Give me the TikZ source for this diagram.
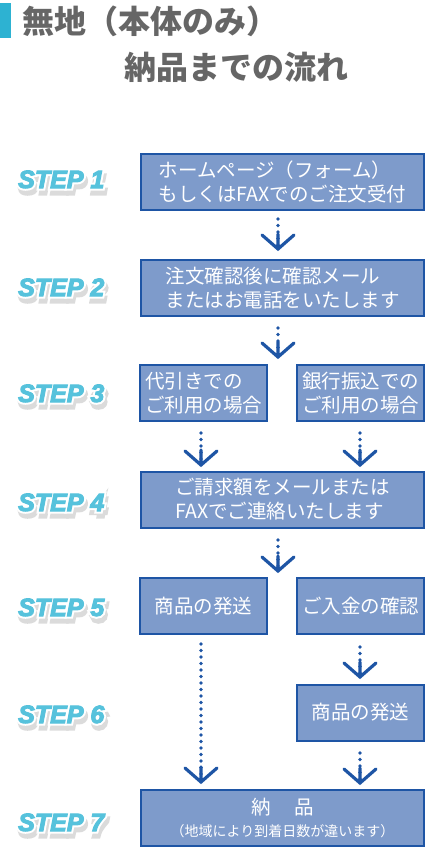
\documentclass[tikz,border=0pt]{standalone}
\usepackage{fontspec}
\setmainfont{Liberation Sans}
\newfontfamily\jpfont{Noto Sans CJK JP}
\newfontfamily\stepfont{Liberation Sans}[BoldItalicFeatures={FakeBold=4}]
\newfontfamily\stephalo{Liberation Sans}[BoldItalicFeatures={FakeBold=20}]
\usetikzlibrary{decorations.markings}

\definecolor{boxblue}{HTML}{7E9BCB}
\definecolor{lineblue}{HTML}{1E55A5}
\definecolor{stepcyan}{HTML}{56C2DC}
\definecolor{titlegray}{HTML}{666666}
\definecolor{barcyan}{HTML}{2DB2D2}

\tikzset{
  stepbox/.style={draw=lineblue, line width=2pt, fill=boxblue, text=white,
    font=\jpfont\fontsize{19.5}{24}\selectfont, align=left, inner sep=0pt},
  wide/.style={stepbox, minimum width=283pt, minimum height=56pt},
  half/.style={stepbox, minimum width=127pt, minimum height=56pt},
  flow/.style={lineblue, line width=3.6pt, line cap=round, dash pattern=on 0pt off 6.5pt,
    postaction={decorate}, decoration={markings, mark=at position 1 with
      {\draw[solid, line width=3.2pt, line cap=round, line join=miter]
        (-15pt,0) -- (0,0) (-14pt,16pt) -- (0,0) -- (-14pt,-16pt);}}},
  steptext/.style={anchor=base west, inner sep=0pt,
    font=\stepfont\fontsize{25}{25}\selectfont\bfseries\itshape},
  stepglow/.style={steptext, font=\stephalo\fontsize{25}{25}\selectfont\bfseries\itshape},
  titletext/.style={anchor=west, inner sep=0pt, text=titlegray,
    font=\jpfont\bfseries\fontsize{32}{32}\selectfont},
}

\begin{document}
\begin{tikzpicture}[x=1pt, y=-1pt]
    \useasboundingbox (0,0) rectangle (426,856);

    % title
    \fill[barcyan] (0,3) rectangle (11,38);
    \node (title1) [titletext] at (22,21) {無地（本体のみ）};
    \node (title2) [titletext] at (124,67) {納品までの流れ};

    % step labels
    \foreach \n/\y in {1/188,2/296,3/402,4/511,5/616,6/723,7/831}{
        \node (shadow\n) [stepglow, text=black!14] at (20,\y+5) {STEP \n};
        \node (halo\n) [stepglow, text=white] at (18,\y) {STEP \n};
        \node (step\n) [steptext, text=stepcyan] at (18,\y) {STEP \n};
    }

    % boxes
    \node (b1) [wide] at (282.5,182) {ホームページ（フォーム）\\もしくはFAXでのご注文受付};
    \node (b2) [wide] at (282.5,288) {注文確認後に確認メール\\またはお電話をいたします};
    \node (b3l) [half] at (203.5,393) {代引きでの\\ご利用の場合};
    \node (b3r) [half] at (360.5,393) {銀行振込での\\ご利用の場合};
    \node (b4) [wide] at (282.5,499.5) {ご請求額をメールまたは\\FAXでご連絡いたします};
    \node (b5l) [half] at (203.5,606) {商品の発送};
    \node (b5r) [half] at (360.5,606) {ご入金の確認};
    \node (b6) [half] at (360.5,712.5) {商品の発送};
    \node (b7) [wide, align=center] at (282.5,818) {納\hspace{1.2em}品\\[-2pt]{\fontsize{14}{16}\selectfont（地域により到着日数が違います）}};

    % gaps between the paired boxes
    \coordinate (g3) at (278,357);
    \coordinate (g5) at (278,571);

    % arrows
    \draw[flow] ([xshift=-4.5pt, yshift=-8pt]b1.south) -- ([xshift=-4.5pt, yshift=10pt]b2.north);
    \draw[flow] ([xshift=-4.5pt, yshift=-11pt]b2.south) -- (g3);
    \draw[flow] ([xshift=-2.5pt, yshift=-11pt]b3l.south) -- ([xshift=-81.5pt, yshift=5.5pt]b4.north);
    \draw[flow] ([xshift=-0.5pt, yshift=-11pt]b3r.south) -- ([xshift=77.5pt, yshift=5.5pt]b4.north);
    \draw[flow] ([xshift=-4.5pt, yshift=-11.5pt]b4.south) -- (g5);
    \draw[flow] ([xshift=-2.5pt, yshift=-9pt]b5l.south) -- ([xshift=-81.5pt, yshift=7pt]b7.north);
    \draw[flow] ([xshift=-0.5pt, yshift=-12pt]b5r.south) -- ([xshift=-0.5pt, yshift=6.5pt]b6.north);
    \draw[flow] ([xshift=-0.5pt, yshift=-11.5pt]b6.south) -- ([xshift=77.5pt, yshift=6pt]b7.north);

\end{tikzpicture}
\end{document}
